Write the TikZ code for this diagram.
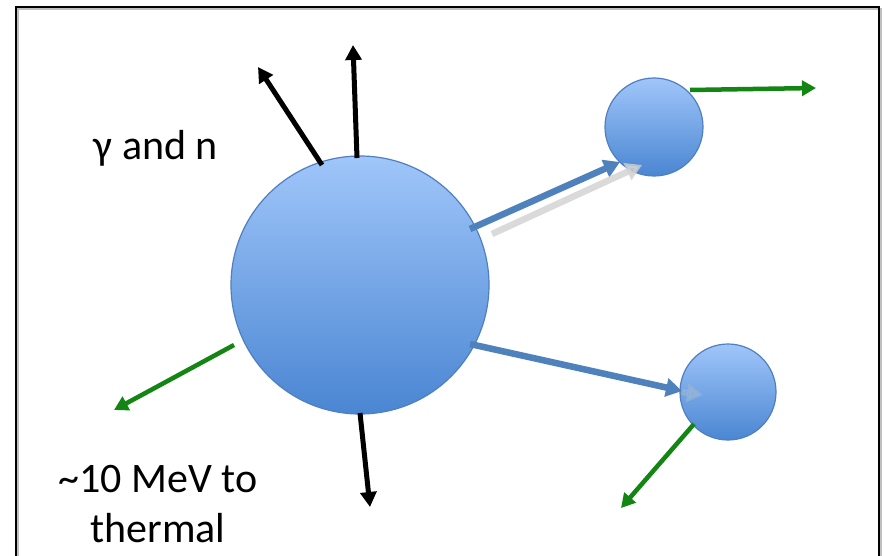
\documentclass[tikz,border=0pt]{standalone}
\usepackage{fontspec}
\setmainfont{Carlito}
\usetikzlibrary{arrows.meta}
\definecolor{ballTop}{HTML}{A0C6FA}
\definecolor{ballBot}{HTML}{4A86D2}
\definecolor{ballEdge}{HTML}{4F7FC0}
\definecolor{arrBlue}{HTML}{4F81BD}
\definecolor{arrGreen}{HTML}{138513}
\tikzset{
  ball/.style={circle, inner sep=0pt, draw=ballEdge, line width=1.2pt, top color=ballTop, bottom color=ballBot},
  blk/.style={line width=5pt, black, -{Triangle[length=15pt,width=16pt]}},
  grn/.style={line width=4.5pt, arrGreen, -{Triangle[length=14pt,width=15pt]}},
  blu/.style={line width=6.5pt, arrBlue, -{Triangle[length=16pt,width=18pt]}},
  shd/.style={line width=6.5pt, black!18, opacity=0.8, -{Triangle[length=16pt,width=18pt]}},
  lbl/.style={font=\fontsize{42}{50}\selectfont, inner sep=0pt, anchor=base}
}
\begin{document}
\begin{tikzpicture}[x=1pt,y=-1pt]
\useasboundingbox (0,0) rectangle (885,556);
\fill[white] (0,0) rectangle (885,556);
% frame with faint shadow
\draw[black!25, line width=2pt] (18,560) -- (18,9) -- (881,9) -- (881,560);
\draw[black, line width=1.8pt] (16,560) -- (16,7) -- (879,7) -- (879,560);
% balls
\node[ball, minimum size=258pt] (big) at (360,285) {};
\node[ball, minimum size=98pt] (s1) at (654,127) {};
% coordinates
\coordinate (g1s) at (492,234); \coordinate (g1e) at (642,165);
\coordinate (b1s) at (470,229); \coordinate (b1e) at (620,162);
\coordinate (g2s) at (682,392); \coordinate (g2e) at (703,395);
\coordinate (b2s) at (470,344); \coordinate (b2e) at (682,391);
\node[ball, minimum size=96pt] (s2) at (728,392) {};
\draw[blu] (b1s) -- (b1e);
\draw[shd] (g1s) -- (g1e);
\draw[blu] (b2s) -- (b2e);
\draw[line width=6.5pt, arrBlue!60!white, opacity=0.7, -{Triangle[length=16pt,width=18pt]}] (g2s) -- (g2e);
% black arrows
\coordinate (k1s) at (322,165); \coordinate (k1e) at (258,67);
\coordinate (k2s) at (357,158); \coordinate (k2e) at (353,45);
\coordinate (k3s) at (360,413); \coordinate (k3e) at (370,507);
\draw[blk] (k1s) -- (k1e);
\draw[blk] (k2s) -- (k2e);
\draw[blk] (k3s) -- (k3e);
% green arrows
\coordinate (n1s) at (234,345); \coordinate (n1e) at (114,410);
\coordinate (n2s) at (690,90); \coordinate (n2e) at (816,88);
\coordinate (n3s) at (694,424); \coordinate (n3e) at (621,508);
\draw[grn] (n1s) -- (n1e);
\draw[grn] (n2s) -- (n2e);
\draw[grn] (n3s) -- (n3e);
% labels
\node[lbl] (gn) at (156,160) {γ and n};
\node[lbl] (mev1) at (158,492) {\textasciitilde10 MeV to};
\node[lbl] (mev2) at (158,542) {thermal};
\end{tikzpicture}
\end{document}
